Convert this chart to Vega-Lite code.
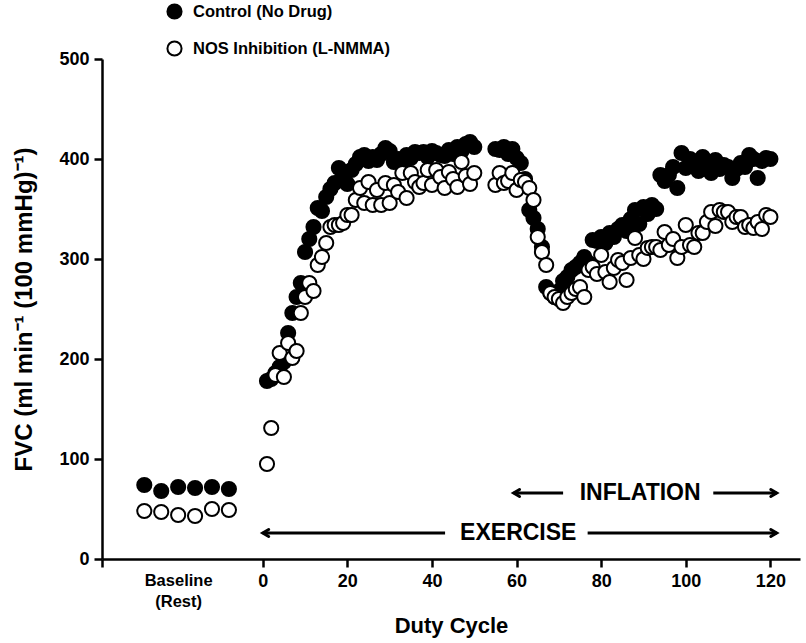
{
  "$schema": "https://vega.github.io/schema/vega-lite/v6.json",
  "width": 698,
  "height": 500,
  "autosize": {"type": "none"},
  "padding": {"left": 102, "top": 59, "right": 6, "bottom": 84},
  "config": {
    "view": {"stroke": null},
    "font": "Liberation Sans",
    "axis": {"grid": false, "domainColor": "black", "domainWidth": 2.5, "tickColor": "black", "tickWidth": 2.5, "tickSize": 8, "labelFont": "Liberation Sans", "labelFontWeight": "bold", "labelFontSize": 18, "labelColor": "black", "titleFont": "Liberation Sans", "titleFontWeight": "bold", "titleColor": "black"}
  },
  "datasets": {
    "pts": [
      {"x": -28, "y": 74, "group": "Control (No Drug)"},
      {"x": -24, "y": 68, "group": "Control (No Drug)"},
      {"x": -20, "y": 72, "group": "Control (No Drug)"},
      {"x": -16, "y": 71, "group": "Control (No Drug)"},
      {"x": -12, "y": 72, "group": "Control (No Drug)"},
      {"x": -8, "y": 70, "group": "Control (No Drug)"},
      {"x": 1, "y": 178, "group": "Control (No Drug)"},
      {"x": 2, "y": 180, "group": "Control (No Drug)"},
      {"x": 3, "y": 186, "group": "Control (No Drug)"},
      {"x": 4, "y": 192, "group": "Control (No Drug)"},
      {"x": 5, "y": 197, "group": "Control (No Drug)"},
      {"x": 6, "y": 226, "group": "Control (No Drug)"},
      {"x": 7, "y": 246, "group": "Control (No Drug)"},
      {"x": 8, "y": 262, "group": "Control (No Drug)"},
      {"x": 9, "y": 276, "group": "Control (No Drug)"},
      {"x": 10, "y": 307, "group": "Control (No Drug)"},
      {"x": 11, "y": 320, "group": "Control (No Drug)"},
      {"x": 12, "y": 332, "group": "Control (No Drug)"},
      {"x": 13, "y": 351, "group": "Control (No Drug)"},
      {"x": 14, "y": 348, "group": "Control (No Drug)"},
      {"x": 15, "y": 362, "group": "Control (No Drug)"},
      {"x": 16, "y": 370, "group": "Control (No Drug)"},
      {"x": 17, "y": 376, "group": "Control (No Drug)"},
      {"x": 18, "y": 391, "group": "Control (No Drug)"},
      {"x": 19, "y": 383, "group": "Control (No Drug)"},
      {"x": 20, "y": 375, "group": "Control (No Drug)"},
      {"x": 21, "y": 389, "group": "Control (No Drug)"},
      {"x": 22, "y": 395, "group": "Control (No Drug)"},
      {"x": 23, "y": 402, "group": "Control (No Drug)"},
      {"x": 24, "y": 404, "group": "Control (No Drug)"},
      {"x": 25, "y": 398, "group": "Control (No Drug)"},
      {"x": 26, "y": 402, "group": "Control (No Drug)"},
      {"x": 27, "y": 399, "group": "Control (No Drug)"},
      {"x": 28, "y": 405, "group": "Control (No Drug)"},
      {"x": 29, "y": 411, "group": "Control (No Drug)"},
      {"x": 30, "y": 408, "group": "Control (No Drug)"},
      {"x": 31, "y": 397, "group": "Control (No Drug)"},
      {"x": 32, "y": 400, "group": "Control (No Drug)"},
      {"x": 33, "y": 394, "group": "Control (No Drug)"},
      {"x": 34, "y": 404, "group": "Control (No Drug)"},
      {"x": 35, "y": 401, "group": "Control (No Drug)"},
      {"x": 36, "y": 407, "group": "Control (No Drug)"},
      {"x": 37, "y": 406, "group": "Control (No Drug)"},
      {"x": 38, "y": 407, "group": "Control (No Drug)"},
      {"x": 39, "y": 402, "group": "Control (No Drug)"},
      {"x": 40, "y": 408, "group": "Control (No Drug)"},
      {"x": 41, "y": 406, "group": "Control (No Drug)"},
      {"x": 42, "y": 404, "group": "Control (No Drug)"},
      {"x": 43, "y": 403, "group": "Control (No Drug)"},
      {"x": 44, "y": 409, "group": "Control (No Drug)"},
      {"x": 45, "y": 405, "group": "Control (No Drug)"},
      {"x": 46, "y": 412, "group": "Control (No Drug)"},
      {"x": 47, "y": 408, "group": "Control (No Drug)"},
      {"x": 48, "y": 415, "group": "Control (No Drug)"},
      {"x": 49, "y": 417, "group": "Control (No Drug)"},
      {"x": 50, "y": 412, "group": "Control (No Drug)"},
      {"x": 55, "y": 410, "group": "Control (No Drug)"},
      {"x": 56, "y": 409, "group": "Control (No Drug)"},
      {"x": 57, "y": 412, "group": "Control (No Drug)"},
      {"x": 58, "y": 405, "group": "Control (No Drug)"},
      {"x": 59, "y": 410, "group": "Control (No Drug)"},
      {"x": 60, "y": 401, "group": "Control (No Drug)"},
      {"x": 61, "y": 396, "group": "Control (No Drug)"},
      {"x": 62, "y": 380, "group": "Control (No Drug)"},
      {"x": 63, "y": 349, "group": "Control (No Drug)"},
      {"x": 64, "y": 341, "group": "Control (No Drug)"},
      {"x": 65, "y": 330, "group": "Control (No Drug)"},
      {"x": 66, "y": 312, "group": "Control (No Drug)"},
      {"x": 67, "y": 272, "group": "Control (No Drug)"},
      {"x": 68, "y": 266, "group": "Control (No Drug)"},
      {"x": 69, "y": 262, "group": "Control (No Drug)"},
      {"x": 70, "y": 268, "group": "Control (No Drug)"},
      {"x": 71, "y": 278, "group": "Control (No Drug)"},
      {"x": 72, "y": 282, "group": "Control (No Drug)"},
      {"x": 73, "y": 289, "group": "Control (No Drug)"},
      {"x": 74, "y": 292, "group": "Control (No Drug)"},
      {"x": 75, "y": 296, "group": "Control (No Drug)"},
      {"x": 76, "y": 302, "group": "Control (No Drug)"},
      {"x": 77, "y": 296, "group": "Control (No Drug)"},
      {"x": 78, "y": 319, "group": "Control (No Drug)"},
      {"x": 79, "y": 318, "group": "Control (No Drug)"},
      {"x": 80, "y": 322, "group": "Control (No Drug)"},
      {"x": 81, "y": 316, "group": "Control (No Drug)"},
      {"x": 82, "y": 326, "group": "Control (No Drug)"},
      {"x": 83, "y": 322, "group": "Control (No Drug)"},
      {"x": 84, "y": 330, "group": "Control (No Drug)"},
      {"x": 85, "y": 334, "group": "Control (No Drug)"},
      {"x": 86, "y": 328, "group": "Control (No Drug)"},
      {"x": 87, "y": 340, "group": "Control (No Drug)"},
      {"x": 88, "y": 349, "group": "Control (No Drug)"},
      {"x": 89, "y": 335, "group": "Control (No Drug)"},
      {"x": 90, "y": 352, "group": "Control (No Drug)"},
      {"x": 91, "y": 345, "group": "Control (No Drug)"},
      {"x": 92, "y": 354, "group": "Control (No Drug)"},
      {"x": 93, "y": 350, "group": "Control (No Drug)"},
      {"x": 94, "y": 384, "group": "Control (No Drug)"},
      {"x": 95, "y": 378, "group": "Control (No Drug)"},
      {"x": 96, "y": 384, "group": "Control (No Drug)"},
      {"x": 97, "y": 392, "group": "Control (No Drug)"},
      {"x": 98, "y": 371, "group": "Control (No Drug)"},
      {"x": 99, "y": 406, "group": "Control (No Drug)"},
      {"x": 100, "y": 391, "group": "Control (No Drug)"},
      {"x": 101, "y": 400, "group": "Control (No Drug)"},
      {"x": 102, "y": 395, "group": "Control (No Drug)"},
      {"x": 103, "y": 388, "group": "Control (No Drug)"},
      {"x": 104, "y": 402, "group": "Control (No Drug)"},
      {"x": 105, "y": 396, "group": "Control (No Drug)"},
      {"x": 106, "y": 386, "group": "Control (No Drug)"},
      {"x": 107, "y": 399, "group": "Control (No Drug)"},
      {"x": 108, "y": 390, "group": "Control (No Drug)"},
      {"x": 109, "y": 394, "group": "Control (No Drug)"},
      {"x": 110, "y": 392, "group": "Control (No Drug)"},
      {"x": 111, "y": 381, "group": "Control (No Drug)"},
      {"x": 112, "y": 390, "group": "Control (No Drug)"},
      {"x": 113, "y": 396, "group": "Control (No Drug)"},
      {"x": 114, "y": 392, "group": "Control (No Drug)"},
      {"x": 115, "y": 404, "group": "Control (No Drug)"},
      {"x": 116, "y": 400, "group": "Control (No Drug)"},
      {"x": 117, "y": 381, "group": "Control (No Drug)"},
      {"x": 118, "y": 398, "group": "Control (No Drug)"},
      {"x": 119, "y": 401, "group": "Control (No Drug)"},
      {"x": 120, "y": 400, "group": "Control (No Drug)"},
      {"x": -28, "y": 48, "group": "NOS Inhibition (L-NMMA)"},
      {"x": -24, "y": 47, "group": "NOS Inhibition (L-NMMA)"},
      {"x": -20, "y": 44, "group": "NOS Inhibition (L-NMMA)"},
      {"x": -16, "y": 43, "group": "NOS Inhibition (L-NMMA)"},
      {"x": -12, "y": 50, "group": "NOS Inhibition (L-NMMA)"},
      {"x": -8, "y": 49, "group": "NOS Inhibition (L-NMMA)"},
      {"x": 1, "y": 95, "group": "NOS Inhibition (L-NMMA)"},
      {"x": 2, "y": 131, "group": "NOS Inhibition (L-NMMA)"},
      {"x": 3, "y": 184, "group": "NOS Inhibition (L-NMMA)"},
      {"x": 4, "y": 206, "group": "NOS Inhibition (L-NMMA)"},
      {"x": 5, "y": 182, "group": "NOS Inhibition (L-NMMA)"},
      {"x": 6, "y": 216, "group": "NOS Inhibition (L-NMMA)"},
      {"x": 7, "y": 201, "group": "NOS Inhibition (L-NMMA)"},
      {"x": 8, "y": 208, "group": "NOS Inhibition (L-NMMA)"},
      {"x": 9, "y": 246, "group": "NOS Inhibition (L-NMMA)"},
      {"x": 10, "y": 262, "group": "NOS Inhibition (L-NMMA)"},
      {"x": 11, "y": 276, "group": "NOS Inhibition (L-NMMA)"},
      {"x": 12, "y": 268, "group": "NOS Inhibition (L-NMMA)"},
      {"x": 13, "y": 294, "group": "NOS Inhibition (L-NMMA)"},
      {"x": 14, "y": 302, "group": "NOS Inhibition (L-NMMA)"},
      {"x": 15, "y": 316, "group": "NOS Inhibition (L-NMMA)"},
      {"x": 16, "y": 332, "group": "NOS Inhibition (L-NMMA)"},
      {"x": 17, "y": 334, "group": "NOS Inhibition (L-NMMA)"},
      {"x": 18, "y": 334, "group": "NOS Inhibition (L-NMMA)"},
      {"x": 19, "y": 336, "group": "NOS Inhibition (L-NMMA)"},
      {"x": 20, "y": 344, "group": "NOS Inhibition (L-NMMA)"},
      {"x": 21, "y": 344, "group": "NOS Inhibition (L-NMMA)"},
      {"x": 22, "y": 359, "group": "NOS Inhibition (L-NMMA)"},
      {"x": 23, "y": 371, "group": "NOS Inhibition (L-NMMA)"},
      {"x": 24, "y": 356, "group": "NOS Inhibition (L-NMMA)"},
      {"x": 25, "y": 377, "group": "NOS Inhibition (L-NMMA)"},
      {"x": 26, "y": 354, "group": "NOS Inhibition (L-NMMA)"},
      {"x": 27, "y": 369, "group": "NOS Inhibition (L-NMMA)"},
      {"x": 28, "y": 354, "group": "NOS Inhibition (L-NMMA)"},
      {"x": 29, "y": 376, "group": "NOS Inhibition (L-NMMA)"},
      {"x": 30, "y": 356, "group": "NOS Inhibition (L-NMMA)"},
      {"x": 31, "y": 374, "group": "NOS Inhibition (L-NMMA)"},
      {"x": 32, "y": 367, "group": "NOS Inhibition (L-NMMA)"},
      {"x": 33, "y": 386, "group": "NOS Inhibition (L-NMMA)"},
      {"x": 34, "y": 361, "group": "NOS Inhibition (L-NMMA)"},
      {"x": 35, "y": 386, "group": "NOS Inhibition (L-NMMA)"},
      {"x": 36, "y": 377, "group": "NOS Inhibition (L-NMMA)"},
      {"x": 37, "y": 372, "group": "NOS Inhibition (L-NMMA)"},
      {"x": 38, "y": 376, "group": "NOS Inhibition (L-NMMA)"},
      {"x": 39, "y": 389, "group": "NOS Inhibition (L-NMMA)"},
      {"x": 40, "y": 374, "group": "NOS Inhibition (L-NMMA)"},
      {"x": 41, "y": 389, "group": "NOS Inhibition (L-NMMA)"},
      {"x": 42, "y": 382, "group": "NOS Inhibition (L-NMMA)"},
      {"x": 43, "y": 371, "group": "NOS Inhibition (L-NMMA)"},
      {"x": 44, "y": 387, "group": "NOS Inhibition (L-NMMA)"},
      {"x": 45, "y": 380, "group": "NOS Inhibition (L-NMMA)"},
      {"x": 46, "y": 372, "group": "NOS Inhibition (L-NMMA)"},
      {"x": 47, "y": 397, "group": "NOS Inhibition (L-NMMA)"},
      {"x": 48, "y": 383, "group": "NOS Inhibition (L-NMMA)"},
      {"x": 49, "y": 375, "group": "NOS Inhibition (L-NMMA)"},
      {"x": 50, "y": 386, "group": "NOS Inhibition (L-NMMA)"},
      {"x": 55, "y": 374, "group": "NOS Inhibition (L-NMMA)"},
      {"x": 56, "y": 386, "group": "NOS Inhibition (L-NMMA)"},
      {"x": 57, "y": 376, "group": "NOS Inhibition (L-NMMA)"},
      {"x": 58, "y": 378, "group": "NOS Inhibition (L-NMMA)"},
      {"x": 59, "y": 386, "group": "NOS Inhibition (L-NMMA)"},
      {"x": 60, "y": 369, "group": "NOS Inhibition (L-NMMA)"},
      {"x": 61, "y": 379, "group": "NOS Inhibition (L-NMMA)"},
      {"x": 62, "y": 377, "group": "NOS Inhibition (L-NMMA)"},
      {"x": 63, "y": 371, "group": "NOS Inhibition (L-NMMA)"},
      {"x": 64, "y": 359, "group": "NOS Inhibition (L-NMMA)"},
      {"x": 65, "y": 322, "group": "NOS Inhibition (L-NMMA)"},
      {"x": 66, "y": 307, "group": "NOS Inhibition (L-NMMA)"},
      {"x": 67, "y": 294, "group": "NOS Inhibition (L-NMMA)"},
      {"x": 68, "y": 266, "group": "NOS Inhibition (L-NMMA)"},
      {"x": 69, "y": 262, "group": "NOS Inhibition (L-NMMA)"},
      {"x": 70, "y": 260, "group": "NOS Inhibition (L-NMMA)"},
      {"x": 71, "y": 256, "group": "NOS Inhibition (L-NMMA)"},
      {"x": 72, "y": 262, "group": "NOS Inhibition (L-NMMA)"},
      {"x": 73, "y": 266, "group": "NOS Inhibition (L-NMMA)"},
      {"x": 74, "y": 270, "group": "NOS Inhibition (L-NMMA)"},
      {"x": 75, "y": 272, "group": "NOS Inhibition (L-NMMA)"},
      {"x": 76, "y": 262, "group": "NOS Inhibition (L-NMMA)"},
      {"x": 77, "y": 289, "group": "NOS Inhibition (L-NMMA)"},
      {"x": 78, "y": 292, "group": "NOS Inhibition (L-NMMA)"},
      {"x": 79, "y": 285, "group": "NOS Inhibition (L-NMMA)"},
      {"x": 80, "y": 304, "group": "NOS Inhibition (L-NMMA)"},
      {"x": 81, "y": 287, "group": "NOS Inhibition (L-NMMA)"},
      {"x": 82, "y": 277, "group": "NOS Inhibition (L-NMMA)"},
      {"x": 83, "y": 291, "group": "NOS Inhibition (L-NMMA)"},
      {"x": 84, "y": 299, "group": "NOS Inhibition (L-NMMA)"},
      {"x": 85, "y": 296, "group": "NOS Inhibition (L-NMMA)"},
      {"x": 86, "y": 279, "group": "NOS Inhibition (L-NMMA)"},
      {"x": 87, "y": 301, "group": "NOS Inhibition (L-NMMA)"},
      {"x": 88, "y": 321, "group": "NOS Inhibition (L-NMMA)"},
      {"x": 89, "y": 304, "group": "NOS Inhibition (L-NMMA)"},
      {"x": 90, "y": 300, "group": "NOS Inhibition (L-NMMA)"},
      {"x": 91, "y": 311, "group": "NOS Inhibition (L-NMMA)"},
      {"x": 92, "y": 312, "group": "NOS Inhibition (L-NMMA)"},
      {"x": 93, "y": 312, "group": "NOS Inhibition (L-NMMA)"},
      {"x": 94, "y": 309, "group": "NOS Inhibition (L-NMMA)"},
      {"x": 95, "y": 327, "group": "NOS Inhibition (L-NMMA)"},
      {"x": 96, "y": 314, "group": "NOS Inhibition (L-NMMA)"},
      {"x": 97, "y": 320, "group": "NOS Inhibition (L-NMMA)"},
      {"x": 98, "y": 301, "group": "NOS Inhibition (L-NMMA)"},
      {"x": 99, "y": 312, "group": "NOS Inhibition (L-NMMA)"},
      {"x": 100, "y": 334, "group": "NOS Inhibition (L-NMMA)"},
      {"x": 101, "y": 314, "group": "NOS Inhibition (L-NMMA)"},
      {"x": 102, "y": 312, "group": "NOS Inhibition (L-NMMA)"},
      {"x": 103, "y": 326, "group": "NOS Inhibition (L-NMMA)"},
      {"x": 104, "y": 326, "group": "NOS Inhibition (L-NMMA)"},
      {"x": 105, "y": 337, "group": "NOS Inhibition (L-NMMA)"},
      {"x": 106, "y": 347, "group": "NOS Inhibition (L-NMMA)"},
      {"x": 107, "y": 333, "group": "NOS Inhibition (L-NMMA)"},
      {"x": 108, "y": 349, "group": "NOS Inhibition (L-NMMA)"},
      {"x": 109, "y": 347, "group": "NOS Inhibition (L-NMMA)"},
      {"x": 110, "y": 347, "group": "NOS Inhibition (L-NMMA)"},
      {"x": 111, "y": 337, "group": "NOS Inhibition (L-NMMA)"},
      {"x": 112, "y": 342, "group": "NOS Inhibition (L-NMMA)"},
      {"x": 113, "y": 342, "group": "NOS Inhibition (L-NMMA)"},
      {"x": 114, "y": 332, "group": "NOS Inhibition (L-NMMA)"},
      {"x": 115, "y": 334, "group": "NOS Inhibition (L-NMMA)"},
      {"x": 116, "y": 331, "group": "NOS Inhibition (L-NMMA)"},
      {"x": 117, "y": 337, "group": "NOS Inhibition (L-NMMA)"},
      {"x": 118, "y": 330, "group": "NOS Inhibition (L-NMMA)"},
      {"x": 119, "y": 344, "group": "NOS Inhibition (L-NMMA)"},
      {"x": 120, "y": 342, "group": "NOS Inhibition (L-NMMA)"}
    ],
    "arrows": [
      {"x": 59.3, "x2": 71, "y": 66},
      {"x": 106.5, "x2": 121.5, "y": 66},
      {"x": 0, "x2": 43.1, "y": 26},
      {"x": 76.8, "x2": 121.5, "y": 26}
    ],
    "tipsL": [{"x": 59.3, "y": 66}, {"x": 0, "y": 26}],
    "tipsR": [{"x": 121.5, "y": 66}, {"x": 121.5, "y": 26}],
    "notes": [
      {"x": 89.2, "y": 66, "text": "INFLATION"},
      {"x": 60.4, "y": 26, "text": "EXERCISE"}
    ]
  },
  "layer": [
    {
      "data": {"name": "arrows"},
      "mark": {"type": "rule", "strokeWidth": 3, "color": "black"},
      "encoding": {
        "x": {"field": "x", "type": "quantitative", "scale": {"domain": [-38, 127], "nice": false, "zero": false}},
        "x2": {"field": "x2"},
        "y": {"field": "y", "type": "quantitative", "scale": {"domain": [0, 500], "nice": false}}
      }
    },
    {
      "data": {"name": "tipsL"},
      "mark": {"type": "point", "shape": "M1.7,-1L0,0L1.7,1", "size": 49, "filled": false, "stroke": "black", "strokeWidth": 3, "strokeCap": "round", "opacity": 1},
      "encoding": {
        "x": {"field": "x", "type": "quantitative"},
        "y": {"field": "y", "type": "quantitative"}
      }
    },
    {
      "data": {"name": "tipsR"},
      "mark": {"type": "point", "shape": "M-1.7,-1L0,0L-1.7,1", "size": 49, "filled": false, "stroke": "black", "strokeWidth": 3, "strokeCap": "round", "opacity": 1},
      "encoding": {
        "x": {"field": "x", "type": "quantitative"},
        "y": {"field": "y", "type": "quantitative"}
      }
    },
    {
      "data": {"name": "notes"},
      "mark": {"type": "text", "font": "Liberation Sans", "fontWeight": "bold", "fontSize": 23, "color": "black", "baseline": "middle", "align": "center"},
      "encoding": {
        "x": {"field": "x", "type": "quantitative"},
        "y": {"field": "y", "type": "quantitative"},
        "text": {"field": "text"}
      }
    },
    {
      "data": {"name": "pts"},
      "mark": {"type": "point", "shape": "circle", "size": 200, "strokeWidth": 2, "stroke": "black", "opacity": 1, "filled": true},
      "encoding": {
        "x": {
          "field": "x", "type": "quantitative",
          "axis": {
            "values": [-38, -20, 0, 20, 40, 60, 80, 100, 120],
            "labelExpr": "datum.value == -38 ? '' : datum.value == -20 ? ['Baseline', '(Rest)'] : datum.label",
            "labelFontSize": {"condition": {"test": "datum.value == -20", "value": 16.5}, "value": 18},
            "tickOpacity": {"condition": {"test": "datum.value == -20", "value": 0}, "value": 1},
            "labelPadding": 5,
            "labelLineHeight": 21,
            "title": "Duty Cycle",
            "titleFontSize": 22,
            "titlePadding": 6
          }
        },
        "y": {
          "field": "y", "type": "quantitative",
          "axis": {
            "values": [0, 100, 200, 300, 400, 500],
            "labelPadding": 5,
            "title": "FVC (ml min⁻¹ (100 mmHg)⁻¹)",
            "titleFontSize": 24,
            "titlePadding": 22
          }
        },
        "fill": {
          "field": "group", "type": "nominal",
          "scale": {"domain": ["Control (No Drug)", "NOS Inhibition (L-NMMA)"], "range": ["black", "white"]},
          "legend": {
            "title": null, "orient": "none", "legendX": 64, "legendY": -56,
            "symbolSize": 200, "symbolStrokeWidth": 2, "symbolStrokeColor": "black", "symbolType": "circle",
            "labelFont": "Liberation Sans", "labelFontWeight": "bold", "labelFontSize": 16.5, "labelColor": "black",
            "labelOffset": 10, "labelLimit": 400, "rowPadding": 14
          }
        }
      }
    }
  ]
}
